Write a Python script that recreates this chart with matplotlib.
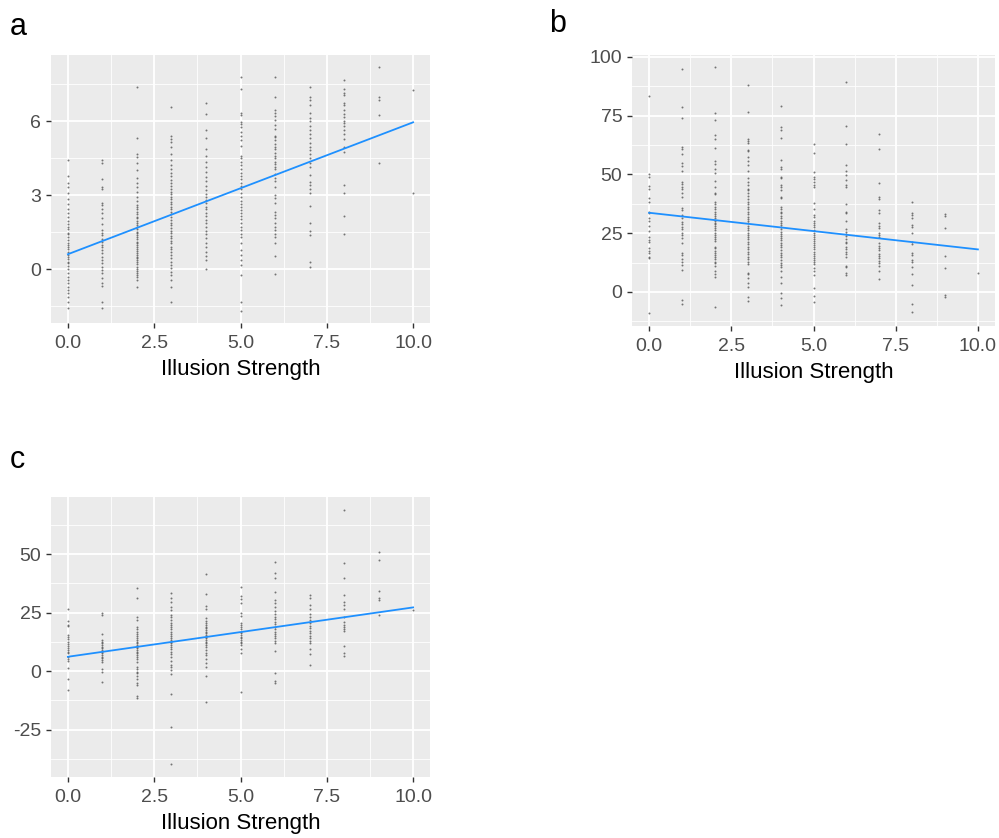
import matplotlib
matplotlib.use("Agg")
import matplotlib.pyplot as plt
import numpy as np

plt.rcParams['font.family'] = ['Liberation Sans', 'DejaVu Sans']

# ---------------- data ----------------
x_levels = [0, 1, 2, 3, 4, 5, 6, 7, 8, 9, 10]

a_vals = {
    0: [4.42, 3.77, 3.47, 3.31, 3.09, 2.84, 2.64, 2.42, 2.26, 2.09, 1.96, 1.82, 1.72, 1.61, 1.47, 1.42, 1.31,
        1.18, 1.04, 0.97, 0.91, 0.80, 0.69, 0.58, 0.50, 0.39, 0.28, 0.23, 0.12, -0.01, -0.15, -0.31, -0.45,
        -0.58, -0.74, -0.85, -0.99, -1.12, -1.32, -1.59],
    1: [4.42, 4.31, 3.64, 3.31, 3.23, 2.69, 2.59, 2.42, 2.26, 2.05, 1.82, 1.58, 1.47, 1.36, 1.20, 1.09, 0.99,
        0.88, 0.77, 0.64, 0.50, 0.36, 0.23, 0.07, -0.04, -0.18, -0.38, -0.58, -0.69, -1.32, -1.59],
    2: [7.39, 5.30, 4.66, 4.53, 4.28, 4.01, 3.68, 3.47, 3.34, 3.14, 2.93, 2.77, 2.59, 2.53, 2.42, 2.32, 2.23,
        2.12, 2.05, 1.96, 1.88, 1.78, 1.72, 1.61, 1.51, 1.45, 1.38, 1.28, 1.20, 1.11, 1.04, 0.97, 0.91, 0.81,
        0.74, 0.66, 0.57, 0.50, 0.43, 0.36, 0.28, 0.20, 0.09, 0.01, -0.07, -0.15, -0.24, -0.34, -0.45, -0.72],
    3: [6.58, 5.38, 5.28, 5.15, 4.95, 4.66, 4.42, 4.22, 4.04, 3.88, 3.77, 3.61, 3.47, 3.36, 3.23, 3.14, 3.04,
        2.93, 2.82, 2.73, 2.64, 2.53, 2.42, 2.32, 2.23, 2.12, 1.99, 1.88, 1.78, 1.65, 1.55, 1.45, 1.34, 1.24,
        1.15, 1.04, 0.91, 0.80, 0.69, 0.57, 0.43, 0.30, 0.16, 0.03, -0.11, -0.24, -0.45, -0.74, -1.32],
    4: [6.72, 6.28, 5.64, 5.30, 4.85, 4.58, 4.35, 4.15, 3.95, 3.74, 3.58, 3.36, 3.20, 3.04, 2.93, 2.80, 2.66,
        2.53, 2.42, 2.28, 2.15, 1.99, 1.85, 1.72, 1.55, 1.42, 1.24, 1.04, 0.88, 0.70, 0.53, 0.36, -0.01],
    5: [7.77, 7.30, 6.34, 6.24, 5.97, 5.88, 5.74, 5.57, 5.39, 5.23, 4.99, 4.58, 4.49, 4.35, 4.22, 4.04, 3.91,
        3.77, 3.64, 3.50, 3.36, 3.23, 3.09, 2.93, 2.77, 2.64, 2.53, 2.39, 2.28, 2.15, 2.01, 1.85, 1.72, 1.58,
        1.42, 1.28, 1.04, 0.77, 0.57, 0.36, 0.16, -0.24, -1.32, -1.69],
    6: [7.77, 6.99, 6.46, 6.32, 6.19, 6.03, 5.85, 5.68, 5.39, 5.34, 5.23, 5.09, 4.96, 4.85, 4.69, 4.58, 4.49,
        4.35, 4.26, 4.15, 4.04, 3.85, 3.68, 3.55, 3.34, 3.00, 2.86, 2.66, 2.32, 2.19, 2.05, 1.88, 1.72, 1.58,
        1.42, 1.28, 1.07, 0.53, -0.22],
    7: [7.39, 6.99, 6.85, 6.65, 6.34, 6.11, 6.01, 5.80, 5.64, 5.47, 5.30, 5.12, 4.96, 4.82, 4.66, 4.49, 4.31,
        4.15, 3.81, 3.54, 3.41, 3.23, 3.09, 2.55, 1.85, 1.55, 1.38, 0.28, 0.09],
    8: [7.66, 7.32, 7.15, 7.05, 6.72, 6.65, 6.45, 6.28, 6.18, 6.01, 5.93, 5.80, 5.64, 5.47, 5.26, 4.96, 4.76,
        3.41, 3.07, 2.16, 1.42],
    9: [8.18, 6.99, 6.85, 6.24, 4.28],
    10: [7.26, 3.07],
}

b_vals = {
    0: [83.5, 50.2, 49.1, 45.1, 43.7, 39.9, 38.4, 34.2, 33.5, 31.3, 30.4, 28.1, 26.1, 23.5, 22.1, 21.4, 18.6,
        17.6, 16.7, 15.0, 14.3, -9.1],
    1: [94.8, 78.9, 73.9, 61.8, 60.7, 58.7, 54.8, 53.6, 51.6, 47.0, 46.0, 44.8, 43.7, 42.3, 40.6, 35.6, 34.9,
        32.8, 31.3, 29.9, 28.9, 27.8, 26.7, 25.2, 24.3, 22.8, 21.0, 16.7, 15.7, 13.9, 12.9, 11.5, 9.4, -3.4, -5.1],
    2: [95.6, 76.0, 73.2, 66.8, 65.0, 61.1, 55.9, 54.5, 52.2, 50.8, 47.4, 44.5, 42.3, 41.7, 38.4, 37.4, 36.3,
        35.2, 34.2, 33.2, 32.3, 31.3, 30.4, 29.5, 29.0, 28.1, 27.1, 26.4, 25.2, 24.3, 23.3, 22.4, 21.8, 19.3,
        18.6, 17.6, 16.7, 15.7, 14.8, 13.9, 12.9, 12.2, 11.1, 8.7, 7.7, 6.5, -6.5],
    3: [88.1, 76.7, 65.0, 64.4, 63.5, 60.4, 60.1, 57.3, 55.9, 54.0, 51.6, 48.4, 47.0, 45.5, 43.7, 43.4, 42.0,
        40.9, 39.4, 38.4, 37.4, 36.3, 35.2, 34.2, 33.2, 32.1, 30.9, 30.4, 29.2, 28.1, 27.1, 26.4, 25.2, 24.3,
        23.3, 22.4, 21.4, 20.4, 19.3, 18.2, 17.2, 16.2, 15.0, 13.9, 12.9, 11.9, 8.2, 7.7, 5.8, 3.7, 2.0, -2.0, -3.7],
    4: [79.1, 70.1, 69.0, 65.5, 56.2, 53.0, 52.2, 49.1, 48.4, 45.5, 44.5, 43.4, 40.6, 39.9, 36.0, 35.2, 34.2,
        33.5, 32.3, 31.3, 30.4, 29.5, 28.5, 27.8, 26.7, 25.7, 24.7, 23.8, 22.8, 22.1, 21.0, 20.0, 19.0, 17.9,
        16.5, 15.7, 14.8, 13.6, 12.5, 11.5, 10.5, 8.7, 6.5, 3.7, -0.6, -2.7, -5.5],
    5: [62.8, 59.3, 51.2, 49.1, 47.9, 46.9, 45.5, 44.5, 37.7, 35.2, 32.8, 31.8, 30.4, 29.5, 28.5, 27.5, 26.4,
        25.2, 24.3, 23.5, 22.4, 21.8, 21.0, 20.0, 19.3, 18.2, 17.2, 16.2, 15.3, 14.3, 13.6, 12.9, 11.9, 10.1,
        9.1, 7.2, 1.6, -1.7, -4.1],
    6: [89.2, 70.6, 62.8, 54.0, 51.6, 49.8, 47.7, 45.5, 44.5, 37.4, 34.2, 33.5, 30.4, 26.7, 25.7, 24.7, 23.8,
        22.4, 21.4, 20.7, 19.3, 18.2, 17.2, 16.2, 15.0, 11.1, 10.5, 8.2, 7.2],
    7: [67.1, 60.7, 46.5, 40.6, 39.4, 34.9, 33.8, 29.2, 28.1, 27.1, 25.2, 24.3, 23.3, 20.7, 19.6, 18.6, 17.9,
        16.2, 15.3, 14.3, 13.3, 12.2, 11.1, 9.1, 5.7],
    8: [38.4, 33.8, 32.8, 31.3, 28.5, 27.5, 25.2, 21.4, 20.4, 16.7, 15.7, 13.6, 12.9, 10.8, 7.7, 2.8, -5.1, -8.4],
    9: [33.2, 32.3, 27.1, 15.3, 10.1, -1.3, -2.3],
    10: [8.2],
}

c_vals = {
    0: [26.4, 21.5, 19.7, 19.2, 15.4, 14.7, 13.5, 12.5, 11.5, 10.7, 9.7, 9.0, 8.3, 7.5, 6.1, 5.0, 4.4, 1.1,
        -3.6, -8.1],
    1: [24.9, 23.9, 15.8, 13.2, 12.5, 11.8, 11.1, 10.4, 9.7, 9.0, 8.3, 7.5, 6.8, 6.1, 5.4, 4.7, 4.0, 0.7,
        -0.3, -4.6],
    2: [35.6, 31.3, 22.9, 21.8, 18.9, 17.8, 16.8, 15.8, 15.0, 14.0, 13.2, 12.5, 11.8, 11.1, 10.4, 9.7, 9.0,
        8.3, 7.5, 6.8, 6.1, 5.0, 4.0, 1.9, 0.7, -0.3, -1.0, -2.1, -3.6, -5.0, -6.0, -10.7, -11.7],
    3: [33.2, 31.1, 29.6, 27.2, 26.1, 23.9, 22.9, 21.8, 20.7, 19.7, 18.7, 17.8, 16.8, 15.8, 15.0, 14.0, 13.2,
        12.5, 11.8, 11.1, 10.4, 9.3, 8.3, 7.3, 6.1, 4.4, 2.6, 1.9, 0.4, -1.3, -9.8, -24.1, -39.7],
    4: [41.3, 32.9, 27.8, 26.4, 22.5, 21.5, 20.7, 19.7, 18.9, 18.2, 17.5, 16.8, 16.1, 15.4, 14.7, 14.0, 13.2,
        12.5, 11.8, 11.1, 10.1, 9.0, 7.8, 6.8, 5.0, 3.6, 1.9, -2.0, -13.4],
    5: [36.0, 32.1, 30.6, 28.9, 24.9, 23.5, 20.4, 19.7, 18.9, 17.8, 16.8, 16.1, 15.4, 14.7, 14.0, 13.2, 12.5,
        11.8, 11.1, 9.3, 7.5, -8.8],
    6: [46.7, 42.0, 39.6, 33.9, 30.3, 29.2, 27.2, 25.8, 24.4, 23.2, 22.1, 21.1, 20.1, 18.9, 17.8, 16.8, 15.8,
        15.0, 14.0, 13.0, 12.1, 8.7, -1.0, -4.1, -5.3],
    7: [32.5, 31.1, 28.2, 26.4, 24.4, 22.9, 21.8, 20.7, 19.2, 18.2, 17.2, 16.1, 15.0, 14.0, 13.0, 11.8, 9.3,
        7.3, 2.6],
    8: [68.8, 46.0, 39.6, 32.5, 29.6, 28.2, 26.4, 23.2, 21.1, 19.7, 18.7, 17.8, 17.2, 10.7, 7.8, 6.4],
    9: [51.1, 47.4, 34.3, 31.1, 30.3, 23.9],
    10: [26.1],
}

# fitted (lm) line end points, at x = 0 and x = 10
fit_x = [0, 10]
fit_a = [0.6, 5.95]
fit_b = [33.7, 18.1]
fit_c = [6.1, 27.2]

x_ticks = [0.0, 2.5, 5.0, 7.5, 10.0]
x_ticklabels = ["0.0", "2.5", "5.0", "7.5", "10.0"]
a_yticks = [0, 3, 6]
b_yticks = [0, 25, 50, 75, 100]
c_yticks = [-25, 0, 25, 50]
xlabel = "Illusion Strength"

# ---------------- drawing ----------------
fig = plt.figure(figsize=(9.99, 8.38), dpi=100)
BG = "#EBEBEB"


def panel(rect, vals, fit_y, yticks, ylim, xlim, yminor):
    ax = fig.add_axes(rect)
    ax.set_facecolor(BG)
    for s in ax.spines.values():
        s.set_visible(False)
    xs, ys = [], []
    for k in x_levels:
        for v in vals.get(k, []):
            xs.append(k)
            ys.append(v)
    ax.set_xlim(*xlim)
    ax.set_ylim(*ylim)
    ax.set_xticks(x_ticks)
    ax.set_xticklabels(x_ticklabels)
    ax.set_yticks(yticks)
    ax.set_yticklabels([str(t) for t in yticks])
    ax.set_xticks([1.25, 3.75, 6.25, 8.75], minor=True)
    ax.set_yticks(yminor, minor=True)
    ax.grid(True, which="major", color="white", linewidth=1.3)
    ax.grid(True, which="minor", color="white", linewidth=0.6)
    ax.set_axisbelow(True)
    ax.tick_params(which="major", length=3.5, width=1.0, color="#333333",
                   labelcolor="#4D4D4D", labelsize=14, pad=3.5)
    ax.tick_params(axis="x", which="major", pad=5)
    ax.tick_params(which="minor", length=0)
    ax.scatter(xs, ys, s=2.0, color="#555555", linewidths=0, alpha=0.8, zorder=3)
    ax.plot(fit_x, fit_y, color="#1E90FF", linewidth=1.3, zorder=4)
    ax.set_xlabel(xlabel, fontsize=16, color="black", labelpad=5)
    return ax


W, H = 999.0, 838.0
ax_a = panel([51 / W, 1 - 323 / H, 379 / W, 268 / H], a_vals, fit_a, a_yticks,
             (-2.19, 8.68), (-0.49, 10.49), [-1.5, 1.5, 4.5, 7.5])
ax_b = panel([632 / W, 1 - 326 / H, 363 / W, 271 / H], b_vals, fit_b, b_yticks,
             (-14.5, 100.85), (-0.52, 10.52), [-12.5, 12.5, 37.5, 62.5, 87.5])
ax_c = panel([51 / W, 1 - 777 / H, 379 / W, 280 / H], c_vals, fit_c, c_yticks,
             (-45.3, 74.4), (-0.49, 10.49), [-37.5, -12.5, 12.5, 37.5, 62.5])

fig.text(10 / W, 1 - 27 / H, "a", fontsize=22, va="center", ha="left")
fig.text(549 / W, 1 - 24 / H, "b", fontsize=22, va="center", ha="left")
fig.text(10 / W, 1 - 460 / H, "c", fontsize=22, va="center", ha="left")

fig.savefig("out.png", dpi=100, facecolor="white")
